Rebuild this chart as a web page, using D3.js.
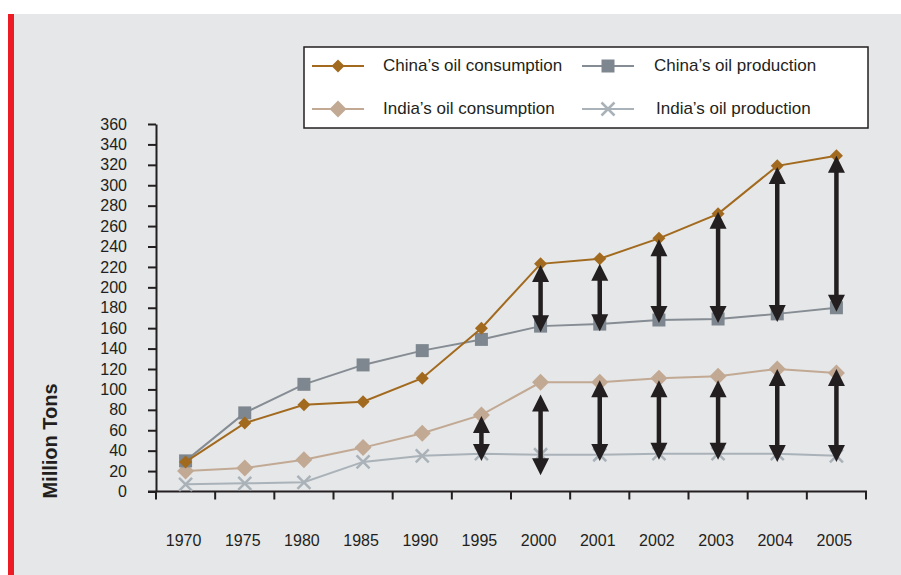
<!DOCTYPE html>
<html>
<head>
<meta charset="utf-8">
<script src="https://cdn.jsdelivr.net/npm/d3@7/dist/d3.min.js"></script>
<style>
  body { margin: 0; background: #fff; }
  svg { display: block; font-family: "Liberation Sans", Arial, sans-serif; }
</style>
</head>
<body>
<svg id="chart" width="901" height="575"></svg>
<script>
// values (million tons)
var years = ["1970", "1975", "1980", "1985", "1990", "1995", "2000", "2001", "2002", "2003", "2004", "2005"];
var chinaConsumption = [29, 67, 85, 88, 111, 160, 223, 228, 248, 272, 319, 329];
var chinaProduction = [30, 77, 105, 124, 138, 149, 162, 164, 168, 169, 174, 180];
var indiaConsumption = [20, 23, 31, 43, 57, 75, 107, 107, 111, 113, 120, 116];
var indiaProduction = [7, 8, 9, 29, 35, 37, 36, 36, 37, 37, 37, 35];

// the black double arrows showing the gap
var chinaGapYears = ["2000", "2001", "2002", "2003", "2004", "2005"];
var chinaGapTop = [222, 223, 247, 274, 318, 329];
var chinaGapBottom = [156, 157, 165, 165, 166, 176];
var indiaGapYears = ["1995", "2000", "2001", "2002", "2003", "2004", "2005"];
var indiaGapTop = [74, 95, 109, 109, 109, 120, 120];
var indiaGapBottom = [30, 16, 30, 31, 31, 29, 29];

var yTicks = d3.range(0, 361, 20);

var svg = d3.select("#chart");

// panel + red side bar
svg.append("rect").attr("x", 10).attr("y", 14).attr("width", 891).attr("height", 561).attr("fill", "#e6e7e8");
svg.append("rect").attr("x", 8).attr("y", 14).attr("width", 6).attr("height", 561).attr("fill", "#ed1c24");

var x = d3.scaleBand().domain(years).range([156, 866]);
var y = d3.scaleLinear().domain([0, 360]).range([491.5, 124]);
var cx = function(yr) { return x(yr) + x.bandwidth() / 2; };

var ink = "#231f20";

// y axis
var yAxis = svg.append("g")
    .attr("transform", "translate(156,0)")
    .call(d3.axisLeft(y).tickValues(yTicks).tickSize(8).tickPadding(21).tickSizeOuter(0));
yAxis.select(".domain").attr("stroke", ink).attr("stroke-width", 2);
yAxis.selectAll(".tick line").attr("stroke", ink).attr("stroke-width", 2);
yAxis.selectAll(".tick text")
    .attr("fill", ink)
    .style("font-size", "16px")
    .style("font-family", "Liberation Sans, Arial, sans-serif");

// x axis: ticks on band edges, labels in the middle
var xAxis = svg.append("g");
xAxis.append("line")
    .attr("x1", 148).attr("x2", x.range()[1] + 1)
    .attr("y1", y(0)).attr("y2", y(0))
    .attr("stroke", ink).attr("stroke-width", 2);
xAxis.selectAll("line.tick")
    .data(years.map(function(d) { return x(d); }).concat([x.range()[1]]))
    .enter().append("line")
    .attr("class", "tick")
    .attr("x1", function(d) { return d; }).attr("x2", function(d) { return d; })
    .attr("y1", y(0)).attr("y2", y(0) + 8)
    .attr("stroke", ink).attr("stroke-width", 2);
xAxis.selectAll("text")
    .data(years)
    .enter().append("text")
    .attr("x", function(d) { return cx(d) - 2; })
    .attr("y", 546)
    .attr("text-anchor", "middle")
    .attr("fill", ink)
    .style("font-size", "16px")
    .text(function(d) { return d; });

svg.append("text")
    .attr("transform", "translate(57,441) rotate(-90)")
    .attr("text-anchor", "middle")
    .attr("fill", ink)
    .style("font-size", "20px")
    .style("font-weight", "bold")
    .text("Million Tons");

// marker shapes
function diamond(r) { return "M0," + (-r) + "L" + r + ",0L0," + r + "L" + (-r) + ",0Z"; }
function square(r) { return "M" + (-r) + "," + (-r) + "h" + (2 * r) + "v" + (2 * r) + "h" + (-2 * r) + "Z"; }
function cross(r) { return "M" + (-r) + "," + (-r) + "L" + r + "," + r + "M" + r + "," + (-r) + "L" + (-r) + "," + r; }

var series = [
    { name: "India\u2019s oil production", values: indiaProduction, line: "#aab2b9", fill: "none", stroke: "#aab2b9", shape: cross(6.5), sw: 2 },
    { name: "India\u2019s oil consumption", values: indiaConsumption, line: "#c2a994", fill: "#c2a994", stroke: "none", shape: diamond(8.5), sw: 2 },
    { name: "China\u2019s oil production", values: chinaProduction, line: "#858c93", fill: "#7e878f", stroke: "none", shape: square(6.5), sw: 2 },
    { name: "China\u2019s oil consumption", values: chinaConsumption, line: "#a26a1f", fill: "#a26a1f", stroke: "none", shape: diamond(6.5), sw: 2 }
];

var line = d3.line()
    .x(function(d, i) { return cx(years[i]); })
    .y(function(d) { return y(d); });

series.forEach(function(s) {
    var g = svg.append("g");
    g.append("path")
        .datum(s.values)
        .attr("d", line)
        .attr("fill", "none")
        .attr("stroke", s.line)
        .attr("stroke-width", s.sw);
    g.selectAll("path.pt")
        .data(s.values)
        .enter().append("path")
        .attr("class", "pt")
        .attr("transform", function(d, i) { return "translate(" + cx(years[i]) + "," + y(d) + ")"; })
        .attr("d", s.shape)
        .attr("fill", s.fill)
        .attr("stroke", s.stroke)
        .attr("stroke-width", 2.5);
});

// double arrows
var headW = 8.5, headL = 17;
function drawArrows(yrs, top, bottom) {
    var g = svg.append("g");
    yrs.forEach(function(yr, i) {
        var ax = cx(yr), y1 = y(top[i]), y2 = y(bottom[i]);
        g.append("line")
            .attr("x1", ax).attr("x2", ax)
            .attr("y1", y1 + headL - 2).attr("y2", y2 - headL + 2)
            .attr("stroke", ink).attr("stroke-width", 4.5);
        g.append("path")
            .attr("d", "M" + ax + "," + y1 + "L" + (ax + headW) + "," + (y1 + headL) + "L" + (ax - headW) + "," + (y1 + headL) + "Z")
            .attr("fill", ink);
        g.append("path")
            .attr("d", "M" + ax + "," + y2 + "L" + (ax + headW) + "," + (y2 - headL) + "L" + (ax - headW) + "," + (y2 - headL) + "Z")
            .attr("fill", ink);
    });
}
drawArrows(chinaGapYears, chinaGapTop, chinaGapBottom);
drawArrows(indiaGapYears, indiaGapTop, indiaGapBottom);

// legend
var legend = svg.append("g");
legend.append("rect")
    .attr("x", 304).attr("y", 47).attr("width", 564).attr("height", 81)
    .attr("fill", "#fff").attr("stroke", ink).attr("stroke-width", 1.5);

var legendItems = [
    { s: series[3], lx: 312, tx: 383, ly: 66 },
    { s: series[2], lx: 582, tx: 654, ly: 66 },
    { s: series[1], lx: 312, tx: 383, ly: 109 },
    { s: series[0], lx: 582, tx: 656, ly: 109 }
];
legendItems.forEach(function(d) {
    legend.append("line")
        .attr("x1", d.lx).attr("x2", d.lx + 52)
        .attr("y1", d.ly).attr("y2", d.ly)
        .attr("stroke", d.s.line).attr("stroke-width", 2);
    legend.append("path")
        .attr("transform", "translate(" + (d.lx + 26) + "," + d.ly + ")")
        .attr("d", d.s.shape)
        .attr("fill", d.s.fill)
        .attr("stroke", d.s.stroke)
        .attr("stroke-width", 2.5);
    legend.append("text")
        .attr("x", d.tx).attr("y", d.ly + 5)
        .attr("fill", ink)
        .style("font-size", "17px")
        .text(d.s.name);
});
</script>
</body>
</html>
